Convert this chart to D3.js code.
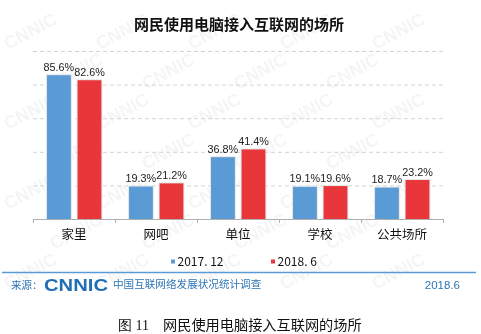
<!DOCTYPE html>
<html><head><meta charset="utf-8">
<script src="https://cdn.jsdelivr.net/npm/d3@7"></script>
<style>body{margin:0;background:#fff}svg{display:block}</style>
</head><body>
<svg id="c" width="481" height="334"></svg>
<script>
const categories = ["家里","网吧","单位","学校","公共场所"];
const seriesNames = ["2017. 12","2018. 6"];
const s2017 = [85.6,19.3,36.8,19.1,18.7];
const s2018 = [82.6,21.2,41.4,19.6,23.2];
const yTicks = [0,20,40,60,80,100];
const colors = ["#5B9BD5","#E8363A"];

(function(){
const svg = d3.select("#c");
const font = "'Liberation Sans', Arial, 'Noto Sans CJK SC', sans-serif";
const cjk = "'Noto Sans CJK SC', sans-serif";

// watermark (only fully visible copies)
const wm = svg.append("g").attr("fill","#000").attr("opacity",0.04)
  .attr("font-family","'Liberation Sans', Arial").attr("font-weight","bold").attr("font-size",18);
for (let r = 0; r < 10; r++) {
  for (let c = -1; c < 7; c++) {
    const wx = c*92 + (r%2 ? 46 : 0) + 8, wy = r*40 + 50;
    if (wx < 2 || wx + 66 > 479 || wy - 48 < 0 || wy + 6 > 332) continue;
    wm.append("text").attr("transform",`translate(${wx},${wy}) rotate(-28)`).text("CNNIC");
  }
}

const pl = 33, pr = 443, pt = 51, pb = 219;
const x0 = d3.scaleBand().domain(categories).range([pl,pr]);
const bw = x0.bandwidth();
const x1 = d3.scaleBand().domain(seriesNames).range([bw*0.171,bw*0.834]).paddingInner(0.22);
const y = d3.scaleLinear().domain([0,100]).range([pb,pt]);

// title
svg.append("text").attr("x",239).attr("y",30).attr("text-anchor","middle")
  .attr("font-family",cjk).attr("font-weight","bold").attr("font-size",15).attr("fill","#111")
  .text("网民使用电脑接入互联网的场所");

// grid
svg.append("g").selectAll("line").data(yTicks.filter(d=>d>0)).join("line")
  .attr("x1",pl).attr("x2",pr).attr("y1",d=>y(d)+0.5).attr("y2",d=>y(d)+0.5)
  .attr("stroke","#d4d4d4").attr("stroke-dasharray","4,3");

// bars
const data = categories.map((c,i)=>({c, v:[s2017[i], s2018[i]]}));
const g = svg.append("g").selectAll("g").data(data).join("g")
  .attr("transform",d=>`translate(${x0(d.c)},0)`);
const bars = g.selectAll("g").data(d=>d.v.map((v,j)=>({s:seriesNames[j],v,j}))).join("g");
bars.append("rect").attr("x",d=>x1(d.s)-1).attr("y",d=>y(d.v)-1)
  .attr("width",x1.bandwidth()+2).attr("height",d=>pb-y(d.v)+1).attr("fill","#e6e6e6");
bars.append("rect").attr("x",d=>x1(d.s)).attr("y",d=>y(d.v))
  .attr("width",x1.bandwidth()).attr("height",d=>pb-y(d.v)).attr("fill",d=>colors[d.j]);
bars.append("text").attr("x",d=>x1(d.s)+x1.bandwidth()/2).attr("y",d=>y(d.v)-4.5)
  .attr("text-anchor","middle").attr("font-family",font).attr("font-size",10.8).attr("fill","#222")
  .text(d=>d.v.toFixed(1)+"%");

// axis
const ax = svg.append("g").attr("transform",`translate(0,${pb})`)
  .call(d3.axisBottom(x0).tickSize(0).tickPadding(11));
ax.select(".domain").attr("stroke","#b0b0b0");
ax.selectAll("text").attr("font-family",cjk).attr("font-size",12.5).attr("fill","#111");
svg.append("g").selectAll("line").data(d3.range(categories.length+1)).join("line")
  .attr("x1",i=>pl+i*bw+0.5).attr("x2",i=>pl+i*bw+0.5).attr("y1",pb).attr("y2",pb+4)
  .attr("stroke","#b0b0b0");

// legend
const leg = svg.append("g");
[[171,seriesNames[0]],[271,seriesNames[1]]].forEach(([lx,t],i)=>{
  leg.append("rect").attr("x",lx).attr("y",259.5).attr("width",4).attr("height",4).attr("fill",colors[i]);
  leg.append("text").attr("x",lx+6.5).attr("y",266).attr("font-family",cjk).attr("font-size",12).attr("fill","#111").text(t);
});

// footer
svg.append("line").attr("x1",2).attr("x2",476).attr("y1",272.5).attr("y2",272.5).attr("stroke","#5B9BD5").attr("stroke-width",1.5);
svg.append("text").attr("x",11).attr("y",288.5).attr("font-family",cjk).attr("font-size",10.5).attr("fill","#2E75B6").text("来源：");
svg.append("text").attr("x",44).attr("y",291).attr("font-family","'Liberation Sans', Arial").attr("font-weight","bold")
  .attr("font-size",17).attr("fill","#1F6FB5").attr("textLength",64).attr("lengthAdjust","spacingAndGlyphs").text("CNNIC");
svg.append("text").attr("x",113).attr("y",288).attr("font-family",cjk).attr("font-size",10.6).attr("fill","#2E75B6").text("中国互联网络发展状况统计调查");
svg.append("text").attr("x",460).attr("y",288.5).attr("text-anchor","end").attr("font-family",font).attr("font-size",11.5).attr("fill","#2E75B6").text("2018.6");

// caption
svg.append("text").attr("x",118).attr("y",330).attr("font-family","'Liberation Serif', serif").attr("font-size",14).attr("fill","#111").text("图 11");
svg.append("text").attr("x",163).attr("y",330).attr("font-family",cjk).attr("font-size",14.2).attr("fill","#111").text("网民使用电脑接入互联网的场所");
})();
</script>
</body></html>
